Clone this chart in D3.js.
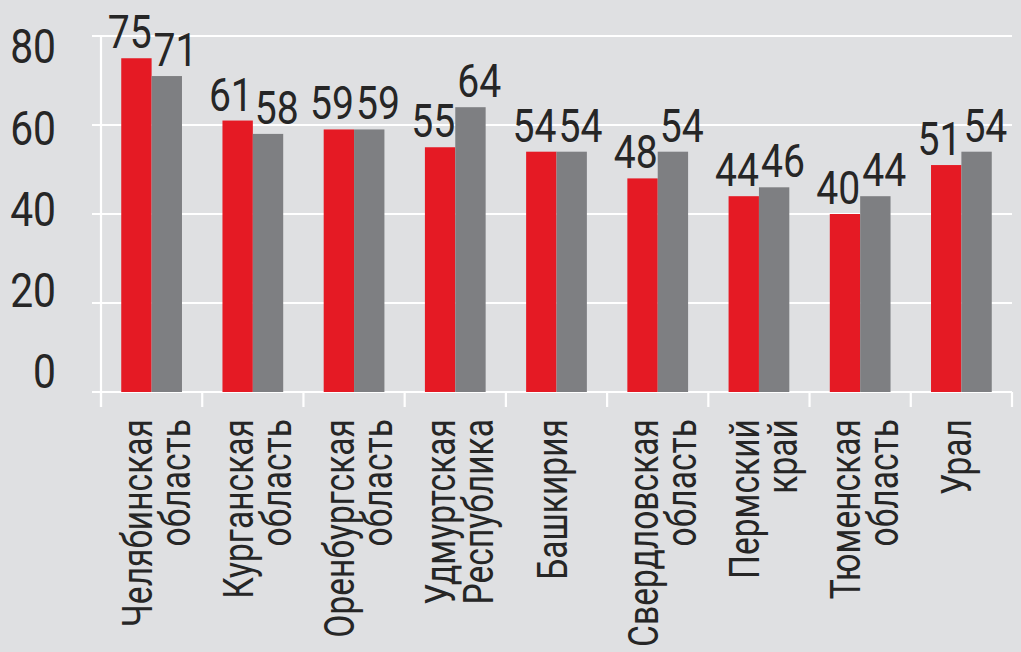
<!DOCTYPE html>
<html>
<head>
<meta charset="utf-8">
<script src="https://cdn.jsdelivr.net/npm/d3@7"></script>
<style>
  html, body { margin: 0; padding: 0; background: #dfe0e2; }
  svg { display: block; }
  text { font-family: Roboto, "Noto Sans", sans-serif; fill: #262626; }
</style>
</head>
<body>
<svg id="chart" width="1021" height="652"></svg>
<script>
const categories = [
  "Челябинская\nобласть",
  "Курганская\nобласть",
  "Оренбургская\nобласть",
  "Удмуртская\nРеспублика",
  "Башкирия",
  "Свердловская\nобласть",
  "Пермский\nкрай",
  "Тюменская\nобласть",
  "Урал"
];
const seriesNames = ["a", "b"];
const redValues  = [75, 61, 59, 55, 54, 48, 44, 40, 51];
const grayValues = [71, 58, 59, 64, 54, 54, 46, 44, 54];
const yTicks = [0, 20, 40, 60, 80];

const W = 1021, H = 652;
const svg = d3.select("#chart");
svg.append("rect").attr("width", W).attr("height", H).attr("fill", "#dfe0e2");

const x0 = d3.scaleBand().domain(d3.range(categories.length)).range([101, 1012]).padding(0);
const bw = x0.bandwidth();
const x1 = d3.scaleBand().domain(seriesNames).range([bw * 0.2, bw * 0.8]).padding(0);
const y = d3.scaleLinear().domain([0, 80]).range([392, 36]);
const yLab = d3.scaleLinear().domain([0, 80]).range([371, 46]);

const SX = 0.85;

// gridlines
svg.append("g").selectAll("line").data(yTicks).join("line")
  .attr("x1", 92).attr("x2", 1012)
  .attr("y1", d => y(d)).attr("y2", d => y(d))
  .attr("stroke", "#ffffff").attr("stroke-width", 2.2);

// vertical axis line
svg.append("line").attr("x1", 101).attr("x2", 101).attr("y1", y(80)).attr("y2", 407)
  .attr("stroke", "#ffffff").attr("stroke-width", 2.2);

// category boundary ticks
const bounds = d3.range(categories.length + 1).map(i => i === categories.length ? x0.range()[1] : x0(i));
svg.append("g").selectAll("line").data(bounds).join("line")
  .attr("x1", d => d).attr("x2", d => d)
  .attr("y1", y(0)).attr("y2", 407)
  .attr("stroke", "#ffffff").attr("stroke-width", 2.2);

// y labels
svg.append("g").selectAll("g").data(yTicks).join("g")
  .attr("transform", d => `translate(56,${yLab(d)}) scale(${SX},1)`)
  .append("text")
  .attr("text-anchor", "end")
  .attr("dy", "0.36em")
  .style("font-size", "48px")
  .text(d => d);

// bars
const groups = svg.append("g").selectAll("g").data(categories.map((c, i) => i)).join("g")
  .attr("transform", i => `translate(${x0(i)},0)`);

groups.append("rect")
  .attr("x", x1("a")).attr("width", x1.bandwidth())
  .attr("y", i => y(redValues[i])).attr("height", i => y(0) - y(redValues[i]))
  .attr("fill", "#e51a24");
groups.append("rect")
  .attr("x", x1("b")).attr("width", x1.bandwidth())
  .attr("y", i => y(grayValues[i])).attr("height", i => y(0) - y(grayValues[i]))
  .attr("fill", "#7e7f82");

// value labels
groups.append("g")
  .attr("transform", i => `translate(${x1("a") + x1.bandwidth()},${y(redValues[i]) - 10}) scale(${SX},1)`)
  .append("text").attr("text-anchor", "end").style("font-size", "46px")
  .text(i => redValues[i]);
groups.append("g")
  .attr("transform", i => `translate(${x1("b") + 2},${y(grayValues[i]) - 10}) scale(${SX},1)`)
  .append("text").attr("text-anchor", "start").style("font-size", "46px")
  .text(i => grayValues[i]);

// category labels (rotated)
categories.forEach((c, i) => {
  const lines = c.split("\n");
  const n = lines.length;
  const cx = x0(i) + bw / 2;
  lines.forEach((ln, j) => {
    const base = cx + 10 + (n - 1) * 9 + (j - (n - 1) / 2) * 38;
    svg.append("g")
      .attr("transform", `translate(${base},419) rotate(-90) scale(0.8,1)`)
      .append("text")
      .attr("text-anchor", "end")
      .style("font-size", "42px")
      .text(ln);
  });
});
</script>
</body>
</html>
